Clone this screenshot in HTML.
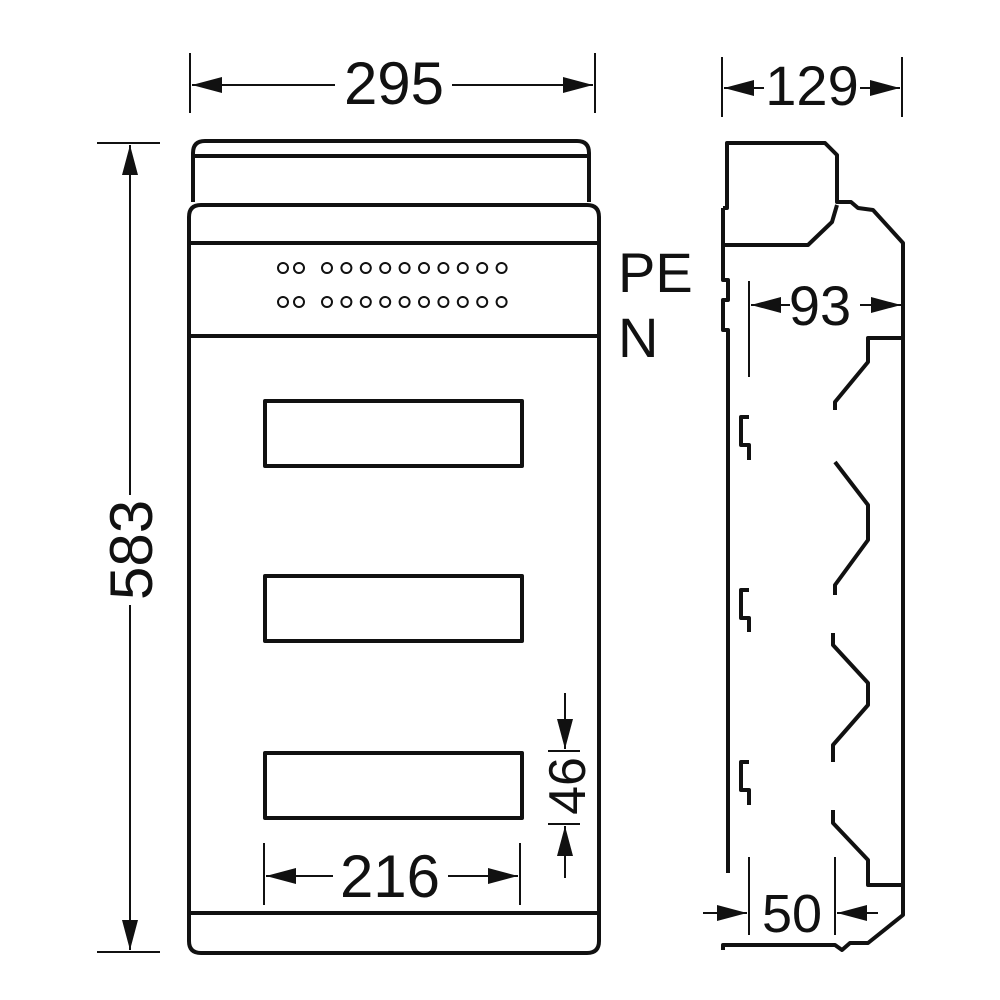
<!DOCTYPE html>
<html><head><meta charset="utf-8"><style>html,body{margin:0;padding:0;background:#fff}svg{display:block}</style></head>
<body>
<svg width="1000" height="1000" viewBox="0 0 1000 1000" xmlns="http://www.w3.org/2000/svg">
<defs>
<marker id="a" viewBox="0 0 30 16" refX="30" refY="8" markerWidth="30" markerHeight="16" markerUnits="userSpaceOnUse" orient="auto"><path d="M0,0 L30,8 L0,16 z" fill="#111"/></marker>
</defs>
<g fill="none" stroke="#111" stroke-width="4" stroke-linejoin="round">
<!-- front view -->
<path d="M193,202 L193,153 Q193,141 205,141 L577,141 Q589,141 589,153 L589,202"/>
<line x1="193" y1="156" x2="589" y2="156"/>
<path d="M189,217 Q189,205 201,205 L587,205 Q599,205 599,217 L599,941 Q599,953 587,953 L201,953 Q189,953 189,941 Z"/>
<line x1="189" y1="243" x2="599" y2="243"/>
<line x1="189" y1="336" x2="599" y2="336"/>
<line x1="189" y1="913" x2="599" y2="913"/>
<rect x="265" y="401" width="257" height="65"/>
<rect x="265" y="576" width="257" height="65"/>
<rect x="265" y="753" width="257" height="65"/>
</g>
<g fill="none" stroke="#111" stroke-width="2">
<circle cx="283" cy="268" r="5"/><circle cx="299" cy="268" r="5"/>
<circle cx="327" cy="268" r="5"/><circle cx="346.4" cy="268" r="5"/><circle cx="365.8" cy="268" r="5"/><circle cx="385.2" cy="268" r="5"/><circle cx="404.6" cy="268" r="5"/><circle cx="424" cy="268" r="5"/><circle cx="443.4" cy="268" r="5"/><circle cx="462.8" cy="268" r="5"/><circle cx="482.2" cy="268" r="5"/><circle cx="501.6" cy="268" r="5"/>
<circle cx="283" cy="302" r="5"/><circle cx="299" cy="302" r="5"/>
<circle cx="327" cy="302" r="5"/><circle cx="346.4" cy="302" r="5"/><circle cx="365.8" cy="302" r="5"/><circle cx="385.2" cy="302" r="5"/><circle cx="404.6" cy="302" r="5"/><circle cx="424" cy="302" r="5"/><circle cx="443.4" cy="302" r="5"/><circle cx="462.8" cy="302" r="5"/><circle cx="482.2" cy="302" r="5"/><circle cx="501.6" cy="302" r="5"/>
</g>
<!-- side view -->
<g fill="none" stroke="#111" stroke-width="4" stroke-linejoin="round">
<path d="M723,208 L727,208 L727,143 L825,143 L837,155 L837,202 L851,202 L858,208 L873,210 L903,243 L903,915 L868,943 L850,943 L842,950 L835,945 L723,945 L723,950"/>
<path d="M723,245 L808,245 L832,222 L837,205"/>
<path d="M723,208 L723,280 L728,280 L728,300 L723,300 L723,330 L728,330 L728,873"/>
<path d="M903,338 L868,338 L868,362 L835,402 L835,410"/>
<path d="M835,462 L868,505 L868,540 L835,585 L835,595"/>
<path d="M833,633 L833,645 L868,683 L868,705 L833,745 L833,762"/>
<path d="M833,810 L833,823 L868,860 L868,885 L903,885"/>
<path d="M749,417 L741,417 L741,445 L749,445 L749,460"/>
<path d="M749,762 L741,762 L741,790 L749,790 L749,805"/>
<path d="M749,760 L749,760"/>
<path d="M749,590 L741,590 L741,618 L749,618 L749,632"/>
</g>
<!-- dimensions -->
<g stroke="#111" stroke-width="2" fill="none">
<line x1="190" y1="53" x2="190" y2="113"/><line x1="595" y1="53" x2="595" y2="113"/>
<line x1="335" y1="85" x2="192" y2="85" marker-end="url(#a)"/>
<line x1="452" y1="85" x2="593" y2="85" marker-end="url(#a)"/>
<line x1="97" y1="143" x2="160" y2="143"/><line x1="97" y1="952" x2="160" y2="952"/>
<line x1="130" y1="495" x2="130" y2="145" marker-end="url(#a)"/>
<line x1="130" y1="605" x2="130" y2="950" marker-end="url(#a)"/>
<line x1="264" y1="843" x2="264" y2="905"/><line x1="520" y1="843" x2="520" y2="905"/>
<line x1="333" y1="876" x2="266" y2="876" marker-end="url(#a)"/>
<line x1="448" y1="876" x2="518" y2="876" marker-end="url(#a)"/>
<line x1="548" y1="751" x2="580" y2="751"/><line x1="548" y1="824" x2="580" y2="824"/>
<line x1="565" y1="693" x2="565" y2="749" marker-end="url(#a)"/>
<line x1="565" y1="878" x2="565" y2="826" marker-end="url(#a)"/>
<line x1="722" y1="57" x2="722" y2="117"/><line x1="902" y1="57" x2="902" y2="117"/>
<line x1="764" y1="88" x2="724" y2="88" marker-end="url(#a)"/>
<line x1="860" y1="88" x2="900" y2="88" marker-end="url(#a)"/>
<line x1="749" y1="281" x2="749" y2="377"/>
<line x1="790" y1="305" x2="751" y2="305" marker-end="url(#a)"/>
<line x1="860" y1="305" x2="901" y2="305" marker-end="url(#a)"/>
<line x1="749" y1="857" x2="749" y2="935"/><line x1="835" y1="857" x2="835" y2="935"/>
<line x1="703" y1="913" x2="747" y2="913" marker-end="url(#a)"/>
<line x1="878" y1="913" x2="837" y2="913" marker-end="url(#a)"/>
</g>
<g font-family="Liberation Sans, sans-serif" fill="#111" font-size="60" text-anchor="middle">
<text x="394" y="104">295</text>
<text x="812" y="105" font-size="56">129</text>
<text x="820" y="325" font-size="56">93</text>
<text x="792" y="932" font-size="54">50</text>
<text x="390" y="897">216</text>
<text transform="translate(152,550) rotate(-90)">583</text>
<text transform="translate(585,786) rotate(-90)" font-size="52">46</text>
<text x="618" y="292" text-anchor="start" font-size="56">PE</text>
<text x="618" y="357" text-anchor="start" font-size="56">N</text>
</g>
</svg>
</body></html>
